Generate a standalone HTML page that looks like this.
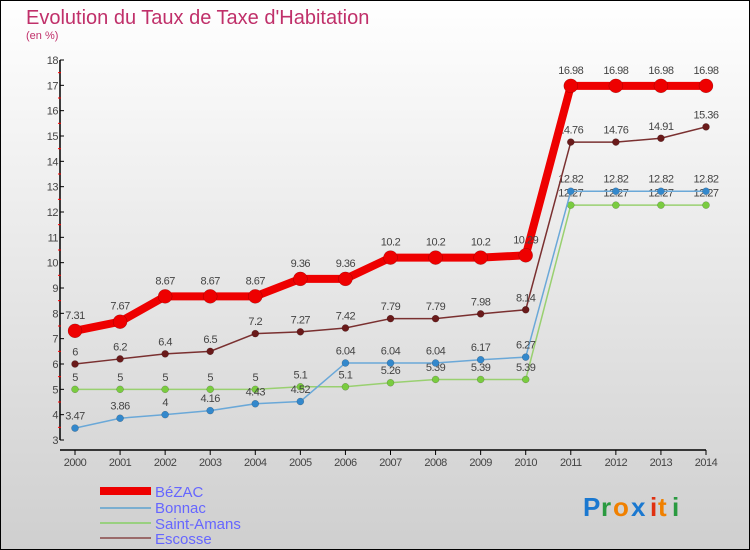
<!DOCTYPE html>
<html><head><meta charset="utf-8"><style>
body{margin:0;}
#c{width:750px;height:550px;position:relative;overflow:hidden;}
svg text{font-family:"Liberation Sans",sans-serif;}
</style></head><body>
<div id="c">
<svg id="s" width="750" height="550" xmlns="http://www.w3.org/2000/svg">
<defs><linearGradient id="bg" x1="0" y1="0" x2="0" y2="1"><stop offset="0" stop-color="#ffffff"/><stop offset="1" stop-color="#cfcfcf"/></linearGradient></defs>
<rect x="0.5" y="0.5" width="749" height="549" fill="url(#bg)" stroke="#000"/>
<text x="26" y="24" font-size="20" fill="#c0306a">Evolution du Taux de Taxe d'Habitation</text>
<text x="26" y="39" font-size="11" fill="#c0306a">(en %)</text>
<g id="axes"></g><g id="series"></g>
<g>
<line x1="100" y1="491" x2="151" y2="491" stroke="#ee0000" stroke-width="8"/>
<text x="155" y="497" font-size="15" fill="#6666ff">BéZAC</text>
<line x1="100" y1="508" x2="151" y2="508" stroke="#7aaed0" stroke-width="2"/>
<text x="155" y="513" font-size="15" fill="#6666ff">Bonnac</text>
<line x1="100" y1="523" x2="151" y2="523" stroke="#99d080" stroke-width="2"/>
<text x="155" y="529" font-size="15" fill="#6666ff">Saint-Amans</text>
<line x1="100" y1="538" x2="151" y2="538" stroke="#9a6a6a" stroke-width="2"/>
<text x="155" y="544" font-size="15" fill="#6666ff">Escosse</text>
</g>
<g font-size="26" font-weight="bold">
<text x="583" y="516" fill="#1a78d0">P</text><text x="601" y="516" fill="#2a9a40">r</text><text x="613" y="516" fill="#f08000">o</text><text x="631" y="516" fill="#1a78d0">x</text><text x="650" y="516" fill="#e03010">i</text><text x="658" y="516" fill="#f08000">t</text><text x="672" y="516" fill="#2a9a40">i</text>
</g>
</svg></div>
<script>
const years=[2000,2001,2002,2003,2004,2005,2006,2007,2008,2009,2010,2011,2012,2013,2014];
const yTicks=[3,4,5,6,7,8,9,10,11,12,13,14,15,16,17,18];
const bezac=[7.31,7.67,8.67,8.67,8.67,9.36,9.36,10.2,10.2,10.2,10.29,16.98,16.98,16.98,16.98];
const bonnac=[3.47,3.86,4,4.16,4.43,4.52,6.04,6.04,6.04,6.17,6.27,12.82,12.82,12.82,12.82];
const saintAmans=[5,5,5,5,5,5.1,5.1,5.26,5.39,5.39,5.39,12.27,12.27,12.27,12.27];
const escosse=[6,6.2,6.4,6.5,7.2,7.27,7.42,7.79,7.79,7.98,8.14,14.76,14.76,14.91,15.36];
const NS="http://www.w3.org/2000/svg";
const X=i=>75+i*(706-75)/(years.length-1);
const Y=v=>440-(v-3)*(380/15);
function mk(t,a,p){const e=document.createElementNS(NS,t);for(const k in a)e.setAttribute(k,a[k]);p.appendChild(e);return e;}
const ax=document.getElementById('axes');
let e=mk('line',{x1:60,y1:Y(18),x2:60,y2:Y(3),stroke:'#000','stroke-width':1.5},ax);


e=mk('line',{x1:60,y1:450,x2:706,y2:450,stroke:'#000','stroke-width':1.5},ax);


yTicks.forEach(v=>{
 mk('line',{x1:60,y1:Y(v),x2:64,y2:Y(v),stroke:'#000'},ax);
 if(v<18)mk('line',{x1:58,y1:Y(v+0.5),x2:61,y2:Y(v+0.5),stroke:'#f00'},ax);
 const t=mk('text',{x:58,y:Y(v)+4,'font-size':11,'text-anchor':'end',fill:'#444','letter-spacing':'-0.5'},ax);
 t.textContent=v;
 
 
});
years.forEach((yr,i)=>{
 mk('line',{x1:X(i),y1:450,x2:X(i),y2:455,stroke:'#000'},ax);
 const t=mk('text',{x:X(i),y:466,'font-size':11,'text-anchor':'middle',fill:'#444','letter-spacing':'-0.5'},ax);
 t.textContent=yr;
 
 
});
const sg=document.getElementById('series');
function series(vals,name,color,lw,r,dot){
 const g=mk('g',{},sg);
 
 
 const pl=mk('polyline',{points:vals.map((v,i)=>X(i)+','+Y(v)).join(' '),fill:'none',stroke:color,'stroke-width':lw},g);
 
 
 vals.forEach((v,i)=>{
  const c=mk('circle',{cx:X(i),cy:Y(v),r:r,fill:dot,stroke:'rgba(0,0,0,0.3)','stroke-width':0.5},g);
  
  
  const t=mk('text',{x:X(i),y:Y(v)-(r+5),'font-size':11,'text-anchor':'middle',fill:'#444','letter-spacing':'-0.5'},g);
  t.textContent=v;
  
  
 });
}
series(saintAmans,'saint-amans','#99d070',1.5,3.5,'#7acc40');
series(bonnac,'bonnac','#6aa8d8',1.5,3.5,'#3388cc');
series(escosse,'escosse','#7a3030',1.5,3.5,'#6a1a1a');
series(bezac,'bezac','#ee0000',8,7,'#ee0000');
</script>
</body></html>
